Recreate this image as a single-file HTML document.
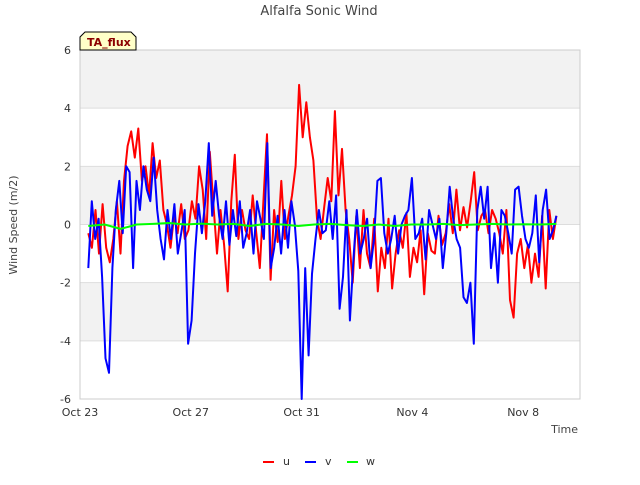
<!DOCTYPE html>
<html><head><meta charset="utf-8">
<style>
body{margin:0;background:#fff;font-family:"Liberation Sans","DejaVu Sans",sans-serif;}
svg text{font-family:"DejaVu Sans","Liberation Sans",sans-serif;}
</style></head>
<body>
<svg id="chart" width="640" height="480" xmlns="http://www.w3.org/2000/svg">
<rect width="640" height="480" fill="#fff"/>
<text x="319" y="15" text-anchor="middle" font-size="13" fill="#444">Alfalfa Sonic Wind</text>
<g id="grid"></g>
<g id="axes"></g>
<g id="series"></g>
<text transform="translate(17,225) rotate(-90)" text-anchor="middle" font-size="11" fill="#444">Wind Speed (m/2)</text>
<text x="578" y="433" text-anchor="end" font-size="11" fill="#444">Time</text>
<g>
<path d="M80,50 L80,37 L85,32 L131,32 L136,37 L136,50 Z" fill="#ffffc8" stroke="#000" stroke-width="1"/>
<text x="87" y="46" font-size="11" font-weight="bold" fill="#8b0000">TA_flux</text>
</g>
<g>
<g><line x1="263" y1="462" x2="274" y2="462" stroke="#f00" stroke-width="2"/><text x="283" y="465" font-size="11" fill="#333">u</text></g>
<g><line x1="305" y1="462" x2="316" y2="462" stroke="#00f" stroke-width="2"/><text x="325" y="465" font-size="11" fill="#333">v</text></g>
<g><line x1="347" y1="462" x2="358" y2="462" stroke="#0f0" stroke-width="2"/><text x="366" y="465" font-size="11" fill="#333">w</text></g>
</g>
</svg>
<script>
const yTicks=[-6,-4,-2,0,2,4,6];
const xTickDays=[0,4,8,12,16];
const xTickLabels=["Oct 23","Oct 27","Oct 31","Nov 4","Nov 8"];
const tStart=0.3, tEnd=17.2;
const uVals=[-0.3,-0.8,0.5,-1,0.7,-0.8,-1.3,-0.5,0.8,-1.0,1.5,2.7,3.2,2.3,3.3,1.5,2.0,1.0,2.8,1.6,2.2,0.5,0,-0.8,0.3,-0.3,0.7,-0.5,-0.2,0.8,0.2,2.0,1.2,-0.5,2.5,0.7,-1.0,0.5,-0.7,-2.3,0.8,2.4,-0.5,0.5,-0.2,-0.5,1.0,-0.3,-1.5,0.8,3.1,-1.9,0.5,-0.6,1.5,-0.5,0.3,1.0,2.0,4.8,3.0,4.2,3.0,2.2,0.2,-0.5,0.6,1.6,0.8,3.9,1.0,2.6,0.5,-0.5,-2.0,0.3,-1.5,0.5,-1.0,-1.5,0.2,-2.3,-0.8,-1.5,0.2,-2.2,-1.0,-0.2,-0.8,0.4,-1.8,-0.8,-1.3,-0.2,-2.4,-0.3,-0.9,-1.0,0.3,-0.7,-0.3,0.7,-0.3,1.2,-0.2,0.6,-0.1,0.8,1.8,-0.2,0.3,0.5,-0.3,0.5,0.2,-0.3,-1.0,0.5,-2.6,-3.2,-1.0,-0.5,-1.5,-0.7,-2.0,-1.0,-1.8,0.3,-2.2,0.5,-0.5,0.3];
const vVals=[-1.5,0.8,-0.5,0.2,-1.8,-4.6,-5.1,-1.5,0.5,1.5,-0.3,2.0,1.8,-1.5,1.5,0.5,2.0,1.2,0.8,2.3,0.5,-0.5,-1.2,0.5,-0.5,0.7,-1.0,-0.3,0.5,-4.1,-3.3,-1.0,0.7,-0.3,0.8,2.8,0.3,1.5,0.3,-0.5,0.8,-0.7,0.5,-0.4,0.8,-0.8,-0.3,0.5,-1.0,0.8,0.2,-0.5,2.8,-1.5,-0.8,0.3,-1.0,0.5,-0.8,0.8,0.0,-1.6,-6.0,-1.5,-4.5,-1.7,-0.5,0.5,-0.3,-0.2,0.8,-0.5,1.0,-2.9,-1.8,0.5,-3.3,-1.2,0.5,-1.0,-0.5,0.2,-1.5,-0.5,1.5,1.6,-0.3,-1.0,-0.5,0.3,-1.0,0.0,0.3,0.5,1.6,-0.5,-0.3,0.2,-1.2,0.5,0,-0.5,0.2,-1.5,-0.3,1.3,0.2,-0.5,-0.8,-2.5,-2.7,-2.0,-4.1,0.5,1.3,0.2,1.3,-1.5,-0.3,-2.0,0.5,0.3,-0.3,-1.0,1.2,1.3,0.3,-0.5,-0.8,-0.3,1.0,-1.3,0.5,1.2,-0.5,-0.2,0.3];
const wVals=[-0.05,0.0,-0.15,0.0,0.02,0.05,0.0,0.03,0.0,0.02,-0.05,0.02,0.0,-0.05,0.0,0.02,-0.02,-0.05,0.0,-0.05,0.0,0.0,0.02,-0.02,0.0,0.02,0.0,0.01,0.0,0.02];

const L=80,R=580,T=50,B=399;
const dayPx=27.7;
function xs(t){return L+t*dayPx;}
function ys(v){return T+(6-v)*(B-T)/12;}
const NS="http://www.w3.org/2000/svg";
const grid=document.getElementById('grid'),axes=document.getElementById('axes'),series=document.getElementById('series');
for(let i=0;i<yTicks.length-1;i++){
  if(i%2===1){
    const r=document.createElementNS(NS,'rect');
    
    
    const y1=ys(yTicks[i+1]),y0=ys(yTicks[i]);
    r.setAttribute('x',L);r.setAttribute('y',y1);r.setAttribute('width',R-L);r.setAttribute('height',y0-y1);r.setAttribute('fill','#f2f2f2');
    grid.appendChild(r);
  }
}
yTicks.forEach(v=>{
  const l=document.createElementNS(NS,'line');
  
  
  l.setAttribute('x1',L);l.setAttribute('x2',R);l.setAttribute('y1',ys(v));l.setAttribute('y2',ys(v));l.setAttribute('stroke','#ddd');
  grid.appendChild(l);
  const t=document.createElementNS(NS,'text');
  
  
  t.setAttribute('x',L-9);t.setAttribute('y',ys(v)+4);t.setAttribute('text-anchor','end');t.setAttribute('font-size','11');t.setAttribute('fill','#333');
  t.textContent=v;axes.appendChild(t);
});
const frame=document.createElementNS(NS,'rect');


frame.setAttribute('x',L);frame.setAttribute('y',T);frame.setAttribute('width',R-L);frame.setAttribute('height',B-T);frame.setAttribute('fill','none');frame.setAttribute('stroke','#ccc');
axes.appendChild(frame);
xTickDays.forEach((d,i)=>{
  const t=document.createElementNS(NS,'text');
  
  
  t.setAttribute('x',xs(d));t.setAttribute('y',B+17);t.setAttribute('text-anchor','middle');t.setAttribute('font-size','11');t.setAttribute('fill','#333');
  t.textContent=xTickLabels[i];axes.appendChild(t);
});
function drawSeries(vals,color,name){
  const n=vals.length,dt=(tEnd-tStart)/(n-1);
  const pts=vals.map((v,i)=>xs(tStart+i*dt).toFixed(1)+','+ys(v).toFixed(1)).join(' ');
  const p=document.createElementNS(NS,'polyline');
  
  
  p.setAttribute('points',pts);p.setAttribute('fill','none');p.setAttribute('stroke',color);p.setAttribute('stroke-width','2');p.setAttribute('stroke-linejoin','round');
  series.appendChild(p);
}
drawSeries(uVals,'#f00','series-u');
drawSeries(vVals,'#00f','series-v');
drawSeries(wVals,'#0f0','series-w');
</script>
</body></html>
